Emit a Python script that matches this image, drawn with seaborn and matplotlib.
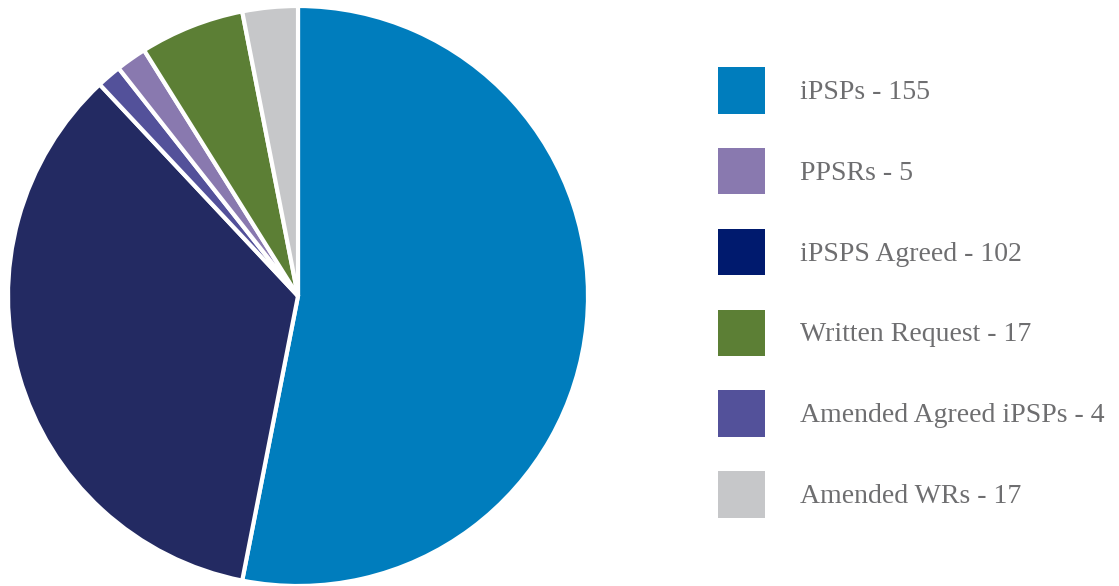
import matplotlib
matplotlib.use("Agg")
import matplotlib.pyplot as plt
import seaborn as sns
from matplotlib.patches import Patch

# legend order (as in the key)
labels = ["iPSPs - 155", "PPSRs - 5", "iPSPS Agreed - 102",
          "Written Request - 17", "Amended Agreed iPSPs - 4", "Amended WRs - 17"]
# slice sizes as drawn in the picture
values = [155, 5, 102, 17, 4, 9]
pie_colors = ["#007DBD", "#8979AF", "#232A62", "#5C7F35", "#53519A", "#C6C7C9"]
key_colors = ["#007DBD", "#8979AF", "#001A6E", "#5C7F35", "#53519A", "#C6C7C9"]
# clockwise from 12 o'clock
pie_order = [0, 2, 4, 1, 3, 5]

sns.set_style("white")
plt.rcParams["font.family"] = ["Liberation Serif", "DejaVu Serif"]

fig = plt.figure(figsize=(11.19, 5.86), dpi=100)
ax = fig.add_axes([8 / 1119, 0.0, 580 / 1119, 580 / 586])

ax.pie([values[i] for i in pie_order],
       colors=[pie_colors[i] for i in pie_order],
       startangle=90, counterclock=False, radius=1.0,
       wedgeprops=dict(edgecolor="white", linewidth=3))
ax.set_xlim(-1.0, 1.0)
ax.set_ylim(-1.0, 1.0)
ax.set_aspect("equal")
ax.axis("off")

handles = [Patch(facecolor=c, edgecolor="none") for c in key_colors]
fs = 20
fig.legend(handles, labels, loc="upper left", bbox_to_anchor=(718 / 1119, 1 - 67 / 586),
           frameon=False, fontsize=fs, labelcolor="#6E6E70",
           handlelength=1.69, handleheight=2.2, labelspacing=1.235,
           handletextpad=1.26, borderpad=0, borderaxespad=0)

fig.savefig("out.png", dpi=100)
